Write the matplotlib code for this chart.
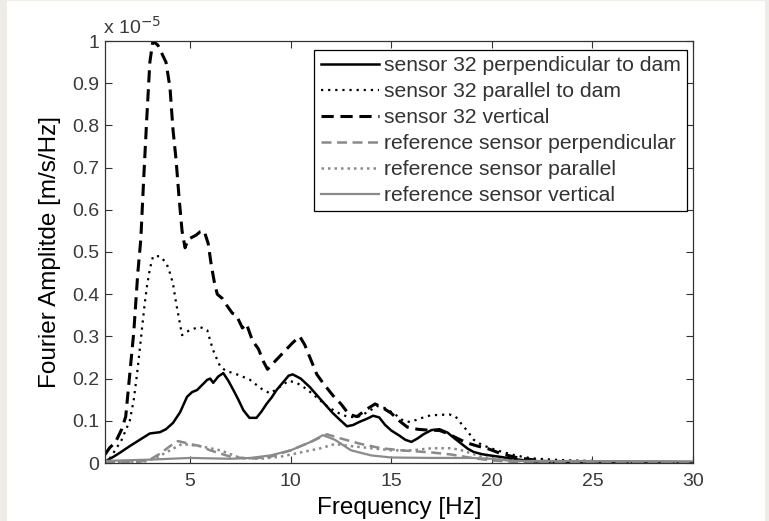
import matplotlib
matplotlib.use("Agg")
import matplotlib.pyplot as plt
from matplotlib.patches import Rectangle

plt.rcParams['font.family'] = ['Liberation Sans', 'DejaVu Sans']

# Fourier amplitude spectra, amplitudes in units of 1e-5 m/s/Hz
freq_s32_perp = [0.77, 0.9, 1.2, 1.5, 2.0, 2.5, 3.0, 3.5, 3.8, 4.15, 4.5, 4.85, 5.1, 5.35, 5.6,
                 5.85, 6.0, 6.15, 6.4, 6.65, 6.9, 7.15, 7.4, 7.65, 7.95, 8.3, 8.55, 8.8, 9.05,
                 9.3, 9.6, 9.9, 10.1, 10.5, 10.95, 11.5, 12.1, 12.5, 12.8, 13.1, 13.4, 13.8,
                 14.1, 14.4, 14.7, 15.0, 15.4, 15.7, 16.0, 16.3, 16.6, 17.0, 17.4, 17.8, 18.1,
                 18.45, 18.8, 19.1, 19.5, 19.9, 20.5, 21.0, 21.5, 22.0, 23.0, 30.0]
amp_s32_perp = [0.003, 0.007, 0.015, 0.024, 0.04, 0.055, 0.07, 0.073, 0.08, 0.095, 0.12, 0.157,
                0.168, 0.173, 0.185, 0.197, 0.2, 0.19, 0.205, 0.213, 0.195, 0.173, 0.15, 0.125,
                0.107, 0.107, 0.122, 0.14, 0.155, 0.173, 0.19, 0.207, 0.21, 0.2, 0.18, 0.15,
                0.118, 0.1, 0.087, 0.09, 0.097, 0.105, 0.112, 0.108, 0.09, 0.077, 0.065, 0.055,
                0.05, 0.058, 0.068, 0.078, 0.08, 0.072, 0.06, 0.047, 0.034, 0.026, 0.021,
                0.018, 0.014, 0.01, 0.007, 0.004, 0.002, 0.001]

freq_s32_par = [1.0, 1.27, 1.6, 2.0, 2.2, 2.36, 2.5, 2.6, 2.75, 2.86, 3.0, 3.16, 3.5, 3.7, 3.85,
                4.0, 4.15, 4.3, 4.4, 4.6, 4.8, 5.0, 5.3, 5.5, 5.85, 6.0, 6.14, 6.3, 6.5, 6.8,
                7.14, 7.5, 7.98, 8.3, 8.63, 8.98, 9.3, 9.6, 9.9, 10.3, 10.8, 11.3, 11.8, 12.3,
                12.8, 13.3, 13.8, 14.3, 14.7, 15.2, 15.6, 15.95, 16.4, 16.95, 17.4, 17.9, 18.2,
                18.45, 18.8, 19.1, 19.5, 19.95, 20.4, 21.0, 21.5, 22.0, 23.0, 24.0, 25.0]
amp_s32_par = [0.01, 0.03, 0.055, 0.1, 0.15, 0.21, 0.27, 0.315, 0.38, 0.42, 0.46, 0.49, 0.49,
               0.48, 0.47, 0.45, 0.425, 0.38, 0.355, 0.303, 0.31, 0.315, 0.32, 0.322, 0.315,
               0.29, 0.268, 0.25, 0.228, 0.218, 0.213, 0.207, 0.197, 0.185, 0.173, 0.165,
               0.175, 0.185, 0.195, 0.19, 0.175, 0.155, 0.135, 0.12, 0.11, 0.108, 0.12, 0.135,
               0.13, 0.115, 0.1, 0.097, 0.105, 0.113, 0.114, 0.115, 0.11, 0.095, 0.075, 0.055,
               0.043, 0.035, 0.028, 0.02, 0.015, 0.011, 0.008, 0.006, 0.005]

freq_s32_vert = [0.77, 1.0, 1.3, 1.6, 1.8, 2.0, 2.2, 2.4, 2.55, 2.7, 2.85, 3.0, 3.15, 3.4, 3.6,
                 3.8, 4.0, 4.15, 4.3, 4.45, 4.6, 4.75, 4.9, 5.1, 5.3, 5.5, 5.7, 5.9, 6.05, 6.2,
                 6.35, 6.6, 6.8, 7.1, 7.3, 7.6, 7.8, 8.1, 8.4, 8.65, 8.85, 9.1, 9.5, 9.8, 10.1,
                 10.45, 10.7, 11.0, 11.3, 11.6, 12.1, 12.5, 12.9, 13.3, 13.7, 14.2, 14.6, 15.0,
                 15.4, 15.8, 16.3, 16.8, 17.4, 17.8, 18.3, 18.8, 19.3, 19.8, 20.3, 20.8, 21.3,
                 22.0, 22.6, 23.5, 30.0]
amp_s32_vert = [0.02, 0.036, 0.05, 0.08, 0.11, 0.21, 0.31, 0.45, 0.53, 0.68, 0.82, 0.95, 1.0,
                0.99, 0.97, 0.95, 0.89, 0.79, 0.72, 0.63, 0.55, 0.51, 0.53, 0.535, 0.54, 0.548,
                0.55, 0.52, 0.47, 0.43, 0.40, 0.39, 0.375, 0.355, 0.35, 0.32, 0.33, 0.29, 0.27,
                0.24, 0.222, 0.235, 0.255, 0.27, 0.285, 0.30, 0.28, 0.245, 0.21, 0.19, 0.16,
                0.14, 0.115, 0.11, 0.125, 0.14, 0.13, 0.118, 0.1, 0.085, 0.08, 0.078, 0.077,
                0.07, 0.058, 0.047, 0.04, 0.034, 0.025, 0.018, 0.012, 0.008, 0.004, 0.002, 0.001]

freq_ref_perp = [0.77, 2.5, 3.0, 3.5, 4.0, 4.4, 5.0, 5.5, 6.0, 7.0, 8.0, 9.0, 10.0, 11.0, 11.8,
                 12.5, 13.5, 14.5, 15.5, 17.0, 18.0, 19.0, 20.0, 21.0, 30.0]
amp_ref_perp = [0.002, 0.003, 0.008, 0.022, 0.04, 0.052, 0.045, 0.04, 0.03, 0.015, 0.01, 0.015,
                0.03, 0.05, 0.068, 0.058, 0.045, 0.035, 0.03, 0.025, 0.02, 0.012, 0.006, 0.003,
                0.002]

freq_ref_par = [0.77, 2.8, 3.3, 4.0, 4.6, 5.5, 6.5, 7.5, 8.5, 9.5, 10.5, 11.5, 12.2, 13.0, 14.0,
                15.0, 16.0, 17.0, 18.0, 18.5, 19.5, 20.5, 21.5, 30.0]
amp_ref_par = [0.002, 0.004, 0.012, 0.03, 0.045, 0.04, 0.03, 0.012, 0.01, 0.015, 0.025, 0.035,
               0.045, 0.04, 0.035, 0.03, 0.03, 0.035, 0.035, 0.03, 0.015, 0.008, 0.004, 0.002]

freq_ref_vert = [0.77, 3.0, 5.0, 7.0, 8.0, 9.0, 10.0, 11.0, 11.6, 12.2, 13.0, 14.0, 15.0, 17.0,
                 19.0, 20.0, 21.0, 30.0]
amp_ref_vert = [0.005, 0.008, 0.012, 0.01, 0.012, 0.018, 0.03, 0.05, 0.066, 0.055, 0.03, 0.018,
                0.013, 0.012, 0.012, 0.01, 0.005, 0.004]

labels = ["sensor 32 perpendicular to dam", "sensor 32 parallel to dam", "sensor 32 vertical",
          "reference sensor perpendicular", "reference sensor parallel",
          "reference sensor vertical"]

x_ticks = [5, 10, 15, 20, 25, 30]
y_ticks = [0, 0.1, 0.2, 0.3, 0.4, 0.5, 0.6, 0.7, 0.8, 0.9, 1]
y_ticklabels = ["0", "0.1", "0.2", "0.3", "0.4", "0.5", "0.6", "0.7", "0.8", "0.9", "1"]

W, H = 769, 521
fig = plt.figure(figsize=(W / 100, H / 100), dpi=100, facecolor="#eeece6")
fig.patches.append(Rectangle((7 / W, 0), (765 - 7) / W, 520 / H, transform=fig.transFigure,
                             facecolor="white", edgecolor="none", zorder=-10))

ax = fig.add_axes([105 / W, 1 - 463 / H, (693 - 105) / W, (463 - 41) / H])

black = "#000000"
gray = "#8a8a8a"
ax.plot(freq_s32_perp, amp_s32_perp, color=black, lw=1.8, ls="-", label=labels[0])
ax.plot(freq_s32_par, amp_s32_par, color=black, lw=1.6, ls=(0, (1, 2.2)), label=labels[1])
ax.plot(freq_s32_vert, amp_s32_vert, color=black, lw=2.2, ls=(0, (4, 2.2)), label=labels[2])
ax.plot(freq_ref_perp, amp_ref_perp, color=gray, lw=1.8, ls=(0, (4, 2.2)), label=labels[3])
ax.plot(freq_ref_par, amp_ref_par, color=gray, lw=1.8, ls=(0, (1, 1.6)), label=labels[4])
ax.plot(freq_ref_vert, amp_ref_vert, color=gray, lw=1.6, ls="-", label=labels[5])

ax.set_xlim(0.77, 30)
ax.set_ylim(0, 1)
ax.set_xticks(x_ticks)
ax.set_yticks(y_ticks)
ax.set_yticklabels(y_ticklabels)

ax.tick_params(direction="in", length=5, width=0.8, top=True, right=True,
               labelsize=14, colors="#333333", labelcolor="#3a3a3a", pad=4)
ax.tick_params(axis="x", pad=7)
for s in ax.spines.values():
    s.set_color("#333333")
    s.set_linewidth(0.9)

ax.set_xlabel("Frequency [Hz]", fontsize=17.5, color="black", labelpad=5)
ax.set_ylabel("Fourier Amplitde [m/s/Hz]", fontsize=17.5, color="black", labelpad=8)

ax.text(-0.004, 1.008, r"x 10$^{-5}$", transform=ax.transAxes, fontsize=14,
        color="#3a3a3a", ha="left", va="bottom")

leg = ax.legend(loc="upper right", bbox_to_anchor=(0.99, 0.979), borderaxespad=0,
                fontsize=15.2, handlelength=2.75, handletextpad=0.25, labelspacing=0.33,
                borderpad=0.3, fancybox=False, framealpha=1, edgecolor="black")
leg.get_frame().set_linewidth(0.9)
for t in leg.get_texts():
    t.set_color("#333333")

fig.savefig("out.png", dpi=100, facecolor=fig.get_facecolor())
